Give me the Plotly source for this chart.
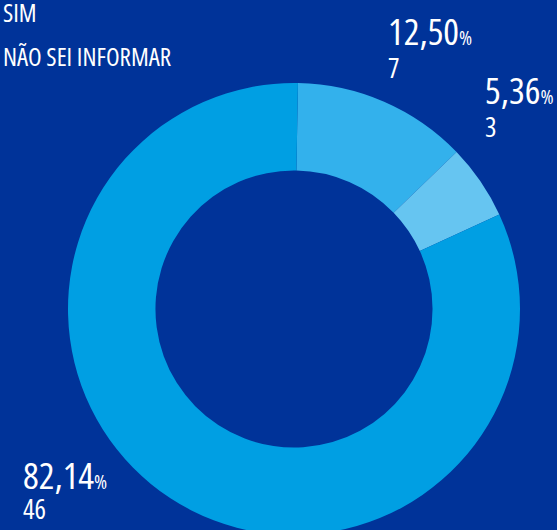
import plotly.graph_objects as go

# ---- data ----
labels = ["SIM", "NÃO SEI INFORMAR", "NÃO"]
values = [7, 3, 46]
colors = ["#33B1EC", "#66C5F1", "#009FE3"]
legend_labels = ["SIM", "NÃO SEI INFORMAR"]

W, H = 557, 540
BG = "#003399"
FONT = "Open Sans, Roboto, sans-serif"

# donut geometry (pixels, from top-left)
cx, cy, R = 294, 309, 226


def px(x):
    return x / W


def py(y):
    return 1 - y / H


def cond(t):
    return f"<span style='font-stretch:condensed'>{t}</span>"


fig = go.Figure(
    go.Pie(
        labels=labels,
        values=values,
        hole=0.613,
        sort=False,
        direction="clockwise",
        rotation=1,
        marker=dict(colors=colors, line=dict(width=0)),
        textinfo="none",
        hoverinfo="label+value+percent",
        showlegend=False,
        domain=dict(x=[px(cx - R), px(cx + R)], y=[py(cy + R), py(cy - R)]),
    )
)

total = sum(values)
# label anchor positions (left x, cap-centre y) for each slice
label_pos = [((387, 30), (387, 67)), ((484, 90), (484, 127)), ((22, 474), (22, 509))]

annotations = []
for v, ((x1, y1), (x2, y2)) in zip(values, label_pos):
    pct = f"{100 * v / total:.2f}".replace(".", ",")
    annotations.append(dict(
        x=px(x1), y=py(y1), xref="paper", yref="paper", xanchor="left", yanchor="middle",
        showarrow=False, borderpad=0,
        text=cond(f"{pct}<span style='font-size:20px'>%</span>"),
        font=dict(family=FONT, size=37, color="white", weight=500),
    ))
    annotations.append(dict(
        x=px(x2), y=py(y2), xref="paper", yref="paper", xanchor="left", yanchor="middle",
        showarrow=False, borderpad=0,
        text=cond(str(v)),
        font=dict(family=FONT, size=27, color="white", weight=500),
    ))

for i, lab in enumerate(legend_labels):
    annotations.append(dict(
        x=px(2), y=py(12 + 44 * i), xref="paper", yref="paper", xanchor="left", yanchor="middle",
        showarrow=False, borderpad=0, text=cond(lab),
        font=dict(family=FONT, size=25, color="white", weight=500),
    ))

fig.update_layout(
    width=W, height=H,
    margin=dict(l=0, r=0, t=0, b=0),
    paper_bgcolor=BG, plot_bgcolor=BG,
    annotations=annotations,
)

post = ("document.documentElement.style.overflow='hidden';"
        "document.body.style.margin='0';document.body.style.overflow='hidden';"
        "document.body.style.background='" + BG + "';")
fig.write_html("out.html", post_script=post, config={"displayModeBar": False})
